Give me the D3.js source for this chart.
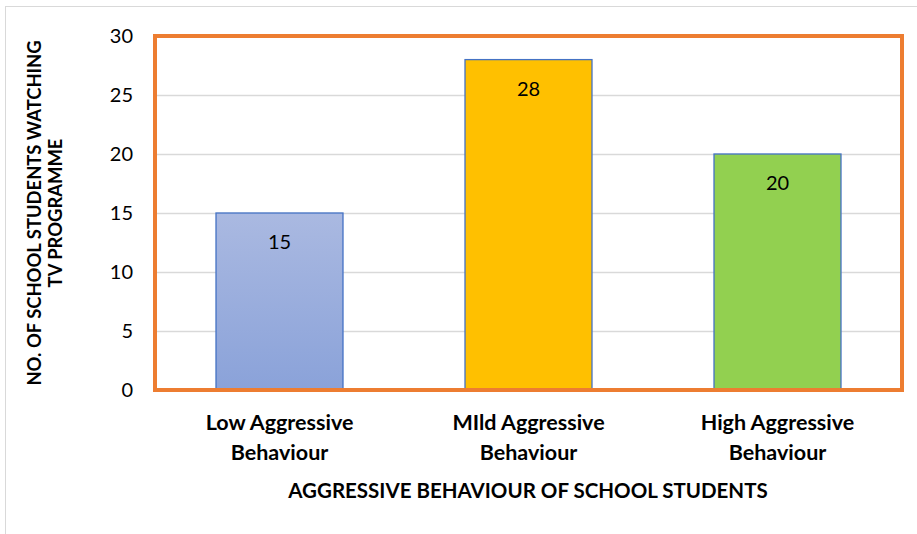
<!DOCTYPE html>
<html>
<head>
<meta charset="utf-8">
<script src="https://cdn.jsdelivr.net/npm/d3@7"></script>
<style>
  html, body { margin: 0; padding: 0; background: #fff; }
  svg { display: block; font-family: Lato, "Open Sans", "Liberation Sans", sans-serif; }
</style>
</head>
<body>
<svg id="chart" width="917" height="534"></svg>
<script>
// Counts of students per aggressive behaviour level
const categories = [["Low Aggressive", "Behaviour"], ["MIld Aggressive", "Behaviour"], ["High Aggressive", "Behaviour"]];
const values = [15, 28, 20];
const barColors = ["url(#lowGrad)", "#FFC000", "#92D050"];
const yTicks = [0, 5, 10, 15, 20, 25, 30];

const svg = d3.select("#chart");
const plot = { left: 155, right: 902, top: 36, bottom: 390 };

// chart frame
svg.append("rect").attr("x", 5.5).attr("y", 6.5).attr("width", 920).attr("height", 540)
  .attr("fill", "#fff").attr("stroke", "#d9d9d9").attr("stroke-width", 1);

const defs = svg.append("defs");
const g = defs.append("linearGradient").attr("id", "lowGrad").attr("x1", 0).attr("y1", 0).attr("x2", 0).attr("y2", 1);
g.append("stop").attr("offset", "0%").attr("stop-color", "#AAB9E1");
g.append("stop").attr("offset", "100%").attr("stop-color", "#8AA2D9");

const x = d3.scaleBand().domain(d3.range(categories.length)).range([plot.left, plot.right]).paddingInner(0.49).paddingOuter(0.245);
const y = d3.scaleLinear().domain([0, 30]).range([plot.bottom, plot.top]);

// gridlines
svg.append("g").selectAll("line").data(yTicks.filter(t => t > 0 && t < 30)).join("line")
  .attr("x1", plot.left).attr("x2", plot.right)
  .attr("y1", d => y(d) + 0.5).attr("y2", d => y(d) + 0.5)
  .attr("stroke", "#d9d9d9").attr("stroke-width", 1.3);

// y axis tick labels
const yAxis = d3.axisLeft(y).tickValues(yTicks).tickSize(0).tickPadding(0);
const ya = svg.append("g").attr("transform", `translate(${plot.left - 22},0)`).call(yAxis);
ya.select(".domain").remove();
ya.selectAll("text").attr("font-size", 20).attr("fill", "#000")
  .attr("font-family", "Lato, 'Open Sans', sans-serif");

// bars
svg.append("g").selectAll("rect").data(values).join("rect")
  .attr("x", (d, i) => x(i)).attr("width", x.bandwidth())
  .attr("y", d => y(d)).attr("height", d => y(0) - y(d))
  .attr("fill", (d, i) => barColors[i])
  .attr("stroke", "#4472C4").attr("stroke-width", 1.3);

// value labels
svg.append("g").selectAll("text").data(values).join("text")
  .attr("x", (d, i) => x(i) + x.bandwidth() / 2)
  .attr("y", d => y(d) + 36)
  .attr("text-anchor", "middle").attr("font-size", 20).attr("fill", "#000")
  .text(d => d);

// x baseline
svg.append("line").attr("x1", plot.left).attr("x2", plot.right)
  .attr("y1", plot.bottom - 1).attr("y2", plot.bottom - 1)
  .attr("stroke", "#d9d9d9").attr("stroke-width", 1);

// plot border
svg.append("rect").attr("x", plot.left).attr("y", plot.top)
  .attr("width", plot.right - plot.left).attr("height", plot.bottom - plot.top)
  .attr("fill", "none").attr("stroke", "#ED7D31").attr("stroke-width", 4);

// category labels
const cat = svg.append("g").selectAll("text").data(categories).join("text")
  .attr("text-anchor", "middle").attr("font-size", 21.5).attr("font-weight", "bold").attr("fill", "#000");
cat.each(function(lines, i) {
  const t = d3.select(this);
  lines.forEach((ln, k) => {
    t.append("tspan").attr("x", x(i) + x.bandwidth() / 2).attr("y", 430 + k * 30).text(ln);
  });
});

// axis titles
svg.append("text").attr("x", 528).attr("y", 498).attr("text-anchor", "middle")
  .attr("font-size", 20.5).attr("font-weight", "bold").attr("fill", "#000")
  .text("AGGRESSIVE BEHAVIOUR OF SCHOOL STUDENTS");

const yt = svg.append("text").attr("transform", "translate(41,213) rotate(-90)")
  .attr("text-anchor", "middle").attr("font-size", 18.4).attr("font-weight", "bold").attr("fill", "#000");
yt.append("tspan").attr("x", 0).attr("y", 0).text("NO. OF SCHOOL STUDENTS WATCHING");
yt.append("tspan").attr("x", 0).attr("y", 21).text("TV PROGRAMME");
</script>
</body>
</html>
